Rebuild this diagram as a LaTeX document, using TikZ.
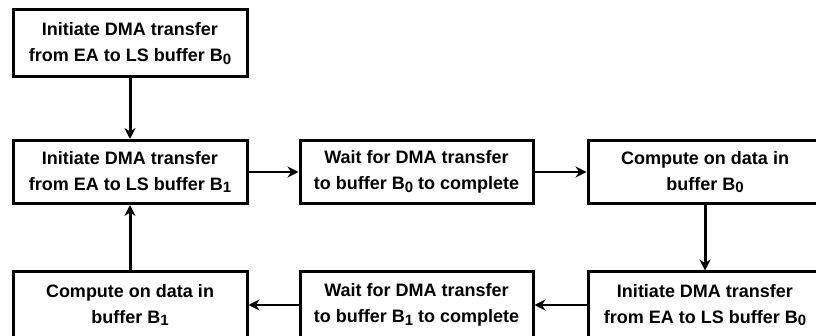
\documentclass[tikz,border=0pt]{standalone}
\usepackage{fontspec}
\setmainfont{Liberation Sans}
\usetikzlibrary{arrows.meta}

\newcommand{\bsub}[1]{B\raisebox{-0.25ex}{\fontsize{15}{15}\selectfont #1}}

\tikzset{
  procbox/.style={draw,line width=3pt,minimum width=234pt,minimum height=63pt,
    align=center,inner sep=2pt,font=\bfseries\fontsize{18}{26}\selectfont},
  flowarrow/.style={line width=3pt,-{Stealth[length=11pt,width=11pt]}},
  sidearrow/.style={line width=2.4pt,-{Stealth[length=11pt,width=11pt]}}
}

\begin{document}
\begin{tikzpicture}[x=1pt,y=-1pt]
\clip (0,0) rectangle (816,336);

  \node[procbox,minimum height=67pt] (init0) at (130,43.5) {Initiate DMA transfer\\from EA to LS buffer \bsub{0}};

  \node[procbox] (initone) at (130,172) {Initiate DMA transfer\\from EA to LS buffer \bsub{1}};
  \node[procbox,minimum width=233pt] (waitzero) at (416.5,172) {Wait for DMA transfer\\to buffer \bsub{0} to complete};
  \node[procbox] (compzero) at (705,172) {Compute on data in\\buffer \bsub{0}};

  \node[procbox,minimum height=66pt] (initzero) at (705,305) {Initiate DMA transfer\\from EA to LS buffer \bsub{0}};
  \node[procbox,minimum width=233pt,minimum height=66pt] (waitone) at (416.5,305) {Wait for DMA transfer\\to buffer \bsub{1} to complete};
  \node[procbox,minimum height=66pt] (compone) at (130,305) {Compute on data in\\buffer \bsub{1}};

  \draw[flowarrow] (init0) -- (initone);
  \draw[sidearrow] (initone) -- (waitzero);
  \draw[sidearrow] (waitzero) -- (compzero);
  \draw[flowarrow] (compzero) -- (initzero);
  \draw[sidearrow] (initzero) -- (waitone);
  \draw[sidearrow] (waitone) -- (compone);
  \draw[flowarrow] (compone) -- (initone);

 \end{tikzpicture}
\end{document}
